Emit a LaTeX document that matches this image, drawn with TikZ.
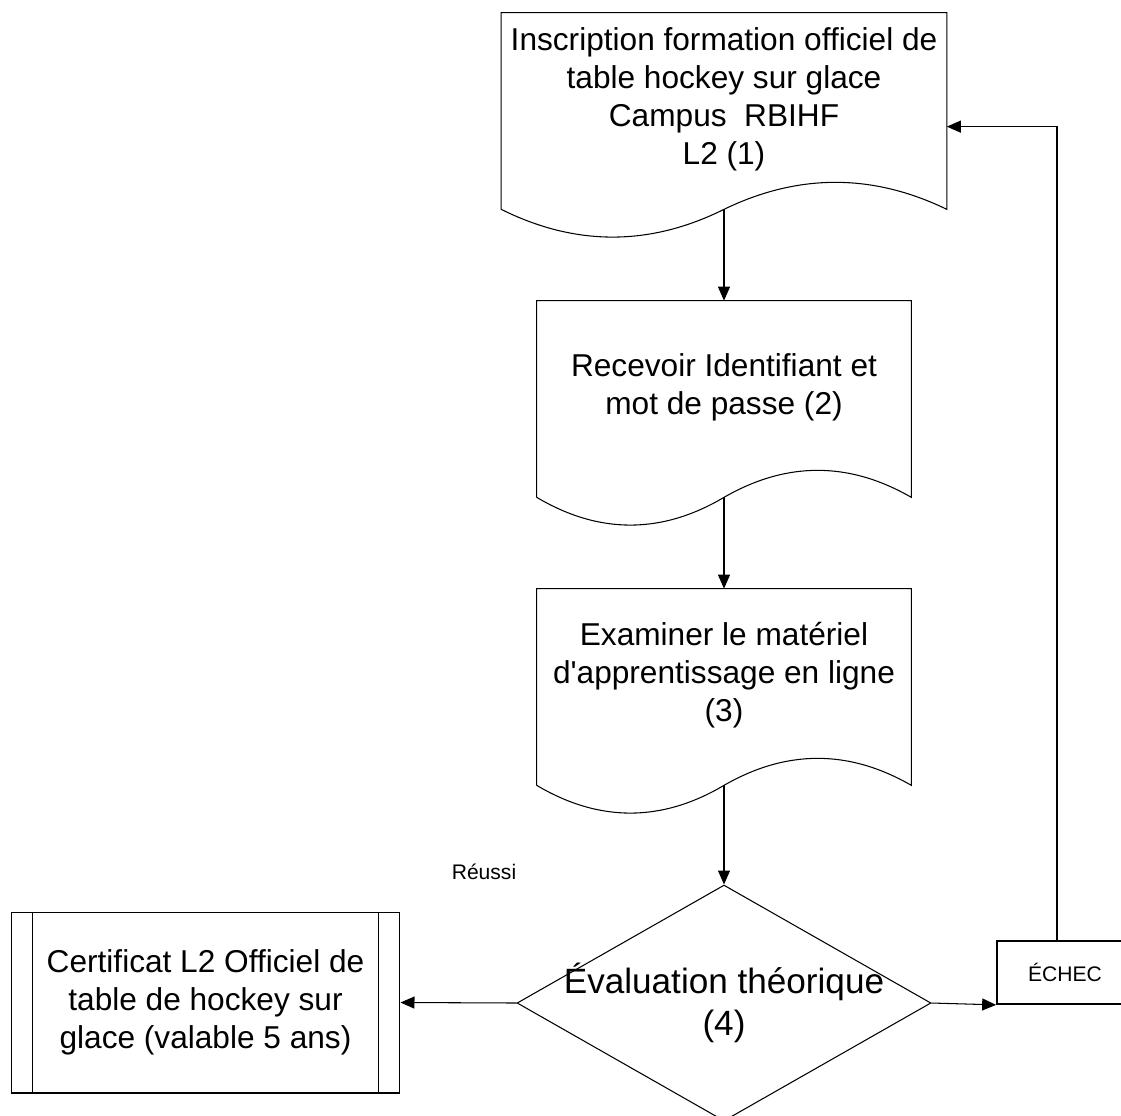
\documentclass[tikz,border=0pt]{standalone}
\usepackage{fontspec}
\setmainfont{Liberation Sans}
\usetikzlibrary{arrows.meta,calc,shapes.geometric}

\tikzset{
  docu/.style={shape=rectangle,minimum height=3.44cm,align=center,inner sep=0pt,font=\fontsize{18}{21.6}\selectfont},
  decision/.style={shape=diamond,draw,line width=0.6pt,aspect=1.754,minimum width=8.28cm,minimum height=4.72cm,inner sep=0pt},
  decisiontxt/.style={align=center,inner sep=0pt,font=\fontsize{20}{24}\selectfont},
  certbox/.style={shape=rectangle,draw,line width=0.6pt,minimum width=7.78cm,minimum height=3.62cm,align=center,font=\fontsize{18}{21.6}\selectfont},
  smalltxt/.style={font=\fontsize{12}{14}\selectfont},
  flow/.style={draw,line width=0.6pt,-{Triangle[length=0.28cm,width=0.24cm]}},
}

% document outline with a wavy bottom
\newcommand{\wavedoc}[1]{%
  \draw[line width=0.6pt] ($(#1.south west)+(0,24)$) -- (#1.north west) -- (#1.north east) -- ($(#1.south east)+(0,24)$)
  .. controls ($(#1.south east)!1/3!(#1.south)+(0,-12)$) and ($(#1.south east)!2/3!(#1.south)+(0,-12)$) .. ($(#1.south)+(0,24)$) coordinate (#1-w)
  .. controls ($(#1.south)!1/3!(#1.south west)+(0,61)$) and ($(#1.south)!2/3!(#1.south west)+(0,61)$) .. ($(#1.south west)+(0,24)$);}

\begin{document}
\begin{tikzpicture}[x=0.02cm,y=-0.02cm]
	\clip (0,0) rectangle (1121,1115);
	\node[docu,minimum width=8.9cm] (inscr) at (724,99) {Inscription formation officiel de\\table hockey sur glace\\Campus\ \ RBIHF\\L2 (1)};
	\node[docu,minimum width=7.48cm] (ident) at (724,387) {Recevoir Identifiant et\\mot de passe (2)};
	\node[docu,minimum width=7.48cm] (exam) at (724,675) {Examiner le matériel\\d\textquotesingle apprentissage en ligne\\(3)};
	\wavedoc{inscr}
	\wavedoc{ident}
	\wavedoc{exam}
	
	\node[decision,label={[decisiontxt]center:{Évaluation théorique\\(4)}}] (eval) at (724,1003) {};
	\node[certbox] (cert) at (205.5,1002.5) {Certificat L2 Officiel de\\table de hockey sur\\glace (valable 5 ans)};
	\draw[line width=0.6pt] ($(cert.north west)+(22,0)$) -- ($(cert.south west)+(22,0)$);
	\draw[line width=0.6pt] ($(cert.north east)+(-22,0)$) -- ($(cert.south east)+(-22,0)$);
	\node[draw,line width=1pt,smalltxt,minimum width=2.72cm,minimum height=1.26cm] (echec) at (1065,972.5) {ÉCHEC};
	\node[smalltxt] (reussi) at (484,872) {Réussi};
	\coordinate (echec-top) at ($(echec.north)+(-8,0)$);
	
	\draw[flow] (inscr-w) -- (ident);
	\draw[flow] (ident-w) -- (exam);
	\draw[flow] (exam-w) -- (eval);
	\draw[flow] (eval.west) -- (cert.east);
	\draw[flow] (eval.east) -- (echec.south west);
	\draw[flow] (echec-top) |- ($(inscr.north east)!0.66!(inscr.south east)$);
\end{tikzpicture}
\end{document}
